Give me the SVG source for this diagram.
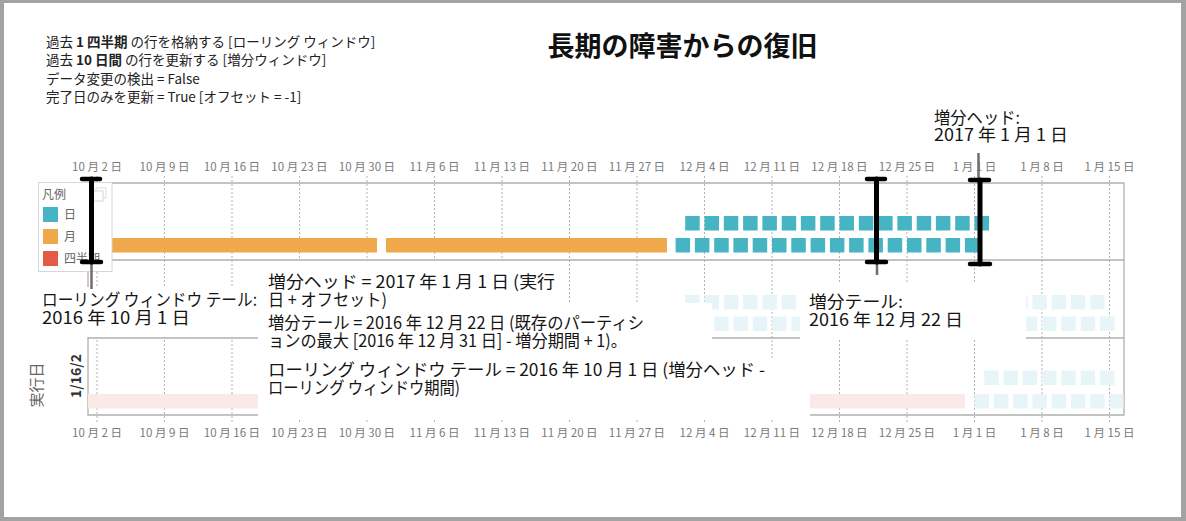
<svg xmlns="http://www.w3.org/2000/svg" width="1186" height="521" viewBox="0 0 1186 521">
<defs>
<style>
text{font-family:'Noto Sans CJK JP','Noto Sans',sans-serif}
.ax{font-size:11.5px;fill:#7a7a7a;text-anchor:middle}
.lg{font-size:12px;fill:#666}
.an{font-size:17px;fill:#151515}
.hd{font-size:13.5px;fill:#222}
.grid{stroke:#b3b3b3;stroke-width:1;stroke-dasharray:2 2}
.pl{stroke:#b0b0b0;stroke-width:1.3;fill:none}
.d{fill:#47b4c4}
.df{fill:#e8f5f8}
.mo{fill:#efa94b}
.wb{fill:#fff}
.beam{stroke:#000;stroke-width:5;stroke-linecap:round}
.cap{stroke:#000;stroke-width:4.5;stroke-linecap:round}
.lead{stroke:#766b6b;stroke-width:2.5}
</style>
</defs>
<rect x="0" y="0" width="1186" height="521" fill="#a3a3a3"/>
<rect x="4" y="3" width="1177" height="514" fill="#fff"/>

<g id="title"><text x="682.5" y="56" text-anchor="middle" font-size="27" font-weight="bold" fill="#111">長期の障害からの復旧</text></g>

<g id="settings">
<text class="hd" x="46" y="47">過去 <tspan font-weight="bold">1 四半期</tspan> の行を格納する [ローリング ウィンドウ]</text>
<text class="hd" x="46" y="65">過去 <tspan font-weight="bold">10 日間</tspan> の行を更新する [増分ウィンドウ]</text>
<text class="hd" x="46" y="84">データ変更の検出 = False</text>
<text class="hd" x="46" y="102">完了日のみを更新 = True [オフセット = -1]</text>
</g>

<g id="axis-top">
<text class="ax" x="97" y="171">10 月 2 日</text>
<text class="ax" x="164.5" y="171">10 月 9 日</text>
<text class="ax" x="232" y="171">10 月 16 日</text>
<text class="ax" x="299.5" y="171">10 月 23 日</text>
<text class="ax" x="367" y="171">10 月 30 日</text>
<text class="ax" x="434.5" y="171">11 月 6 日</text>
<text class="ax" x="502" y="171">11 月 13 日</text>
<text class="ax" x="569.5" y="171">11 月 20 日</text>
<text class="ax" x="637" y="171">11 月 27 日</text>
<text class="ax" x="704.5" y="171">12 月 4 日</text>
<text class="ax" x="772" y="171">12 月 11 日</text>
<text class="ax" x="839.5" y="171">12 月 18 日</text>
<text class="ax" x="907" y="171">12 月 25 日</text>
<text class="ax" x="974.5" y="171">1 月 1 日</text>
<text class="ax" x="1042" y="171">1 月 8 日</text>
<text class="ax" x="1109.5" y="171">1 月 15 日</text>
</g>

<g id="grid">
<path class="grid" d="M97 176V424M164.5 176V424M232 176V424M299.5 176V424M367 176V424M434.5 176V424M502 176V424M569.5 176V424M637 176V424M704.5 176V424M772 176V424M839.5 176V424M907 176V424M974.5 176V424M1042 176V424M1109.5 176V424"/>
</g>

<g id="panels">
<path class="pl" d="M88 183H1124V415H88ZM88 260H1124M88 338H1124"/>
</g>

<g id="bars-upper">
<rect class="mo" x="87.5" y="238" width="289.5" height="14.5"/>
<rect class="mo" x="386" y="238" width="281" height="14.5"/>
<rect class="d" x="685.2" y="216" width="14.5" height="14.5"/><rect class="d" x="704.5" y="216" width="14.5" height="14.5"/><rect class="d" x="723.8" y="216" width="14.5" height="14.5"/><rect class="d" x="743.1" y="216" width="14.5" height="14.5"/><rect class="d" x="762.4" y="216" width="14.5" height="14.5"/><rect class="d" x="781.7" y="216" width="14.5" height="14.5"/><rect class="d" x="800.9" y="216" width="14.5" height="14.5"/><rect class="d" x="820.2" y="216" width="14.5" height="14.5"/><rect class="d" x="839.5" y="216" width="14.5" height="14.5"/><rect class="d" x="858.8" y="216" width="14.5" height="14.5"/><rect class="d" x="878.1" y="216" width="14.5" height="14.5"/><rect class="d" x="897.4" y="216" width="14.5" height="14.5"/><rect class="d" x="916.7" y="216" width="14.5" height="14.5"/><rect class="d" x="935.9" y="216" width="14.5" height="14.5"/><rect class="d" x="955.2" y="216" width="14.5" height="14.5"/><rect class="d" x="974.5" y="216" width="14.5" height="14.5"/>
<rect class="d" x="675.6" y="238" width="14.5" height="14.5"/><rect class="d" x="694.9" y="238" width="14.5" height="14.5"/><rect class="d" x="714.2" y="238" width="14.5" height="14.5"/><rect class="d" x="733.4" y="238" width="14.5" height="14.5"/><rect class="d" x="752.7" y="238" width="14.5" height="14.5"/><rect class="d" x="772" y="238" width="14.5" height="14.5"/><rect class="d" x="791.3" y="238" width="14.5" height="14.5"/><rect class="d" x="810.6" y="238" width="14.5" height="14.5"/><rect class="d" x="829.9" y="238" width="14.5" height="14.5"/><rect class="d" x="849.1" y="238" width="14.5" height="14.5"/><rect class="d" x="868.4" y="238" width="14.5" height="14.5"/><rect class="d" x="887.7" y="238" width="14.5" height="14.5"/><rect class="d" x="907" y="238" width="14.5" height="14.5"/><rect class="d" x="926.3" y="238" width="14.5" height="14.5"/><rect class="d" x="945.6" y="238" width="14.5" height="14.5"/><rect class="d" x="964.9" y="238" width="14.5" height="14.5"/>
</g>

<g id="bars-middle">
<rect class="df" x="685.2" y="295" width="14.5" height="14.5"/><rect class="df" x="704.5" y="295" width="14.5" height="14.5"/><rect class="df" x="723.8" y="295" width="14.5" height="14.5"/><rect class="df" x="743.1" y="295" width="14.5" height="14.5"/><rect class="df" x="762.4" y="295" width="14.5" height="14.5"/><rect class="df" x="781.7" y="295" width="14.5" height="14.5"/><rect class="df" x="1013.1" y="295" width="14.5" height="14.5"/><rect class="df" x="1032.4" y="295" width="14.5" height="14.5"/><rect class="df" x="1051.7" y="295" width="14.5" height="14.5"/><rect class="df" x="1070.9" y="295" width="14.5" height="14.5"/><rect class="df" x="1090.2" y="295" width="14.5" height="14.5"/>
<rect class="df" x="714.2" y="316.5" width="14.5" height="14.5"/><rect class="df" x="733.4" y="316.5" width="14.5" height="14.5"/><rect class="df" x="752.7" y="316.5" width="14.5" height="14.5"/><rect class="df" x="772" y="316.5" width="14.5" height="14.5"/><rect class="df" x="791.3" y="316.5" width="14.5" height="14.5"/><rect class="df" x="1022.7" y="316.5" width="14.5" height="14.5"/><rect class="df" x="1042" y="316.5" width="14.5" height="14.5"/><rect class="df" x="1061.3" y="316.5" width="14.5" height="14.5"/><rect class="df" x="1080.6" y="316.5" width="14.5" height="14.5"/><rect class="df" x="1099.9" y="316.5" width="14.5" height="14.5"/>
</g>

<g id="bars-lower">
<rect x="88" y="394" width="877" height="14.5" fill="#fbe9e8"/>
<rect class="df" x="984.2" y="370.5" width="14.5" height="14.5"/><rect class="df" x="1003.5" y="370.5" width="14.5" height="14.5"/><rect class="df" x="1022.7" y="370.5" width="14.5" height="14.5"/><rect class="df" x="1042" y="370.5" width="14.5" height="14.5"/><rect class="df" x="1061.3" y="370.5" width="14.5" height="14.5"/><rect class="df" x="1080.6" y="370.5" width="14.5" height="14.5"/><rect class="df" x="1099.9" y="370.5" width="14.5" height="14.5"/>
<rect class="df" x="974.5" y="394" width="14.5" height="14.5"/><rect class="df" x="993.8" y="394" width="14.5" height="14.5"/><rect class="df" x="1013.1" y="394" width="14.5" height="14.5"/><rect class="df" x="1032.4" y="394" width="14.5" height="14.5"/><rect class="df" x="1051.7" y="394" width="14.5" height="14.5"/><rect class="df" x="1070.9" y="394" width="14.5" height="14.5"/><rect class="df" x="1090.2" y="394" width="14.5" height="14.5"/><rect class="df" x="1109.5" y="394" width="14" height="14.5"/>
</g>

<g id="axis-bottom">
<text class="ax" x="97" y="437">10 月 2 日</text>
<text class="ax" x="164.5" y="437">10 月 9 日</text>
<text class="ax" x="232" y="437">10 月 16 日</text>
<text class="ax" x="299.5" y="437">10 月 23 日</text>
<text class="ax" x="367" y="437">10 月 30 日</text>
<text class="ax" x="434.5" y="437">11 月 6 日</text>
<text class="ax" x="502" y="437">11 月 13 日</text>
<text class="ax" x="569.5" y="437">11 月 20 日</text>
<text class="ax" x="637" y="437">11 月 27 日</text>
<text class="ax" x="704.5" y="437">12 月 4 日</text>
<text class="ax" x="772" y="437">12 月 11 日</text>
<text class="ax" x="839.5" y="437">12 月 18 日</text>
<text class="ax" x="907" y="437">12 月 25 日</text>
<text class="ax" x="974.5" y="437">1 月 1 日</text>
<text class="ax" x="1042" y="437">1 月 8 日</text>
<text class="ax" x="1109.5" y="437">1 月 15 日</text>
</g>

<g id="row-header">
<text transform="rotate(-90 37 385)" x="37" y="390" text-anchor="middle" font-size="15" fill="#666">実行日</text>
<text transform="rotate(-90 76 376)" x="76" y="381" text-anchor="middle" font-size="14" font-weight="bold" fill="#333">1/16/2</text>
</g>

<g id="legend">
<rect x="38.5" y="182.5" width="73.5" height="89" fill="#fff" stroke="#d6d6d6"/>
<rect x="96" y="188" width="10" height="10" fill="#fff" stroke="#e0e0e0"/>
<rect x="93" y="191" width="10" height="10" fill="#fff" stroke="#d8d8d8"/>
<text class="lg" x="42" y="199">凡例</text>
<rect x="43" y="207" width="15" height="15" fill="#46b4c4"/>
<text class="lg" x="64" y="219">日</text>
<rect x="43" y="229" width="15" height="15" fill="#efa94b"/>
<text class="lg" x="64" y="241">月</text>
<rect x="43" y="251" width="15" height="15" fill="#e35a47"/>
<text class="lg" x="64" y="263">四半期</text>
</g>

<g id="overlays">
<rect class="wb" x="38" y="287" width="222" height="50"/>
<rect class="wb" x="258" y="261" width="302" height="50"/>
<rect class="wb" x="258" y="303" width="454" height="56"/>
<rect class="wb" x="258" y="358" width="552" height="62"/>
<rect class="wb" x="800" y="284" width="226" height="56"/>
</g>

<g id="connectors">
<line class="lead" x1="91.5" y1="264" x2="91.5" y2="289"/>
<line class="lead" x1="877" y1="264" x2="877" y2="275"/>
<line class="lead" x1="978.5" y1="153" x2="978.5" y2="178"/>
<line class="beam" x1="91.5" y1="179" x2="91.5" y2="262"/>
<line class="cap" x1="82" y1="179" x2="100" y2="179"/>
<line class="cap" x1="82" y1="262" x2="101" y2="262"/>
<line class="beam" x1="876.5" y1="179" x2="876.5" y2="262"/>
<line class="cap" x1="867" y1="179" x2="885" y2="179"/>
<line class="cap" x1="867" y1="262" x2="886" y2="262"/>
<line class="beam" x1="980" y1="180" x2="980" y2="264"/>
<line class="cap" x1="970" y1="180" x2="989" y2="180"/>
<line class="cap" x1="970" y1="264" x2="990" y2="264"/>
</g>

<g id="label-rolling-tail">
<text class="an" x="42" y="306"><tspan x="42" y="306" textLength="215" lengthAdjust="spacingAndGlyphs">ローリング ウィンドウ テール:</tspan><tspan x="42" y="324" textLength="148" lengthAdjust="spacingAndGlyphs">2016 年 10 月 1 日</tspan></text>
</g>
<g id="label-inc-tail">
<text class="an" x="809" y="308"><tspan x="809" y="308" textLength="94" lengthAdjust="spacingAndGlyphs">増分テール:</tspan><tspan x="809" y="326" textLength="154" lengthAdjust="spacingAndGlyphs">2016 年 12 月 22 日</tspan></text>
</g>
<g id="label-inc-head">
<text class="an" x="934" y="124"><tspan x="934" y="124" textLength="86" lengthAdjust="spacingAndGlyphs">増分ヘッド:</tspan><tspan x="934" y="141" textLength="134" lengthAdjust="spacingAndGlyphs">2017 年 1 月 1 日</tspan></text>
</g>
<g id="note-head">
<text class="an" x="268" y="288"><tspan x="268" y="288" textLength="287" lengthAdjust="spacingAndGlyphs">増分ヘッド = 2017 年 1 月 1 日 (実行</tspan><tspan x="268" y="306" textLength="119" lengthAdjust="spacingAndGlyphs">日 + オフセット)</tspan></text>
</g>
<g id="note-tail">
<text class="an" x="268" y="329"><tspan x="268" y="329" textLength="376" lengthAdjust="spacingAndGlyphs">増分テール = 2016 年 12 月 22 日 (既存のパーティシ</tspan><tspan x="268" y="347" textLength="359" lengthAdjust="spacingAndGlyphs">ョンの最大 [2016 年 12 月 31 日] - 増分期間 + 1)。</tspan></text>
</g>
<g id="note-rolling">
<text class="an" x="268" y="376"><tspan x="268" y="376" textLength="497" lengthAdjust="spacingAndGlyphs">ローリング ウィンドウ テール = 2016 年 10 月 1 日 (増分ヘッド -</tspan><tspan x="268" y="394" textLength="192" lengthAdjust="spacingAndGlyphs">ローリング ウィンドウ期間)</tspan></text>
</g>
</svg>
